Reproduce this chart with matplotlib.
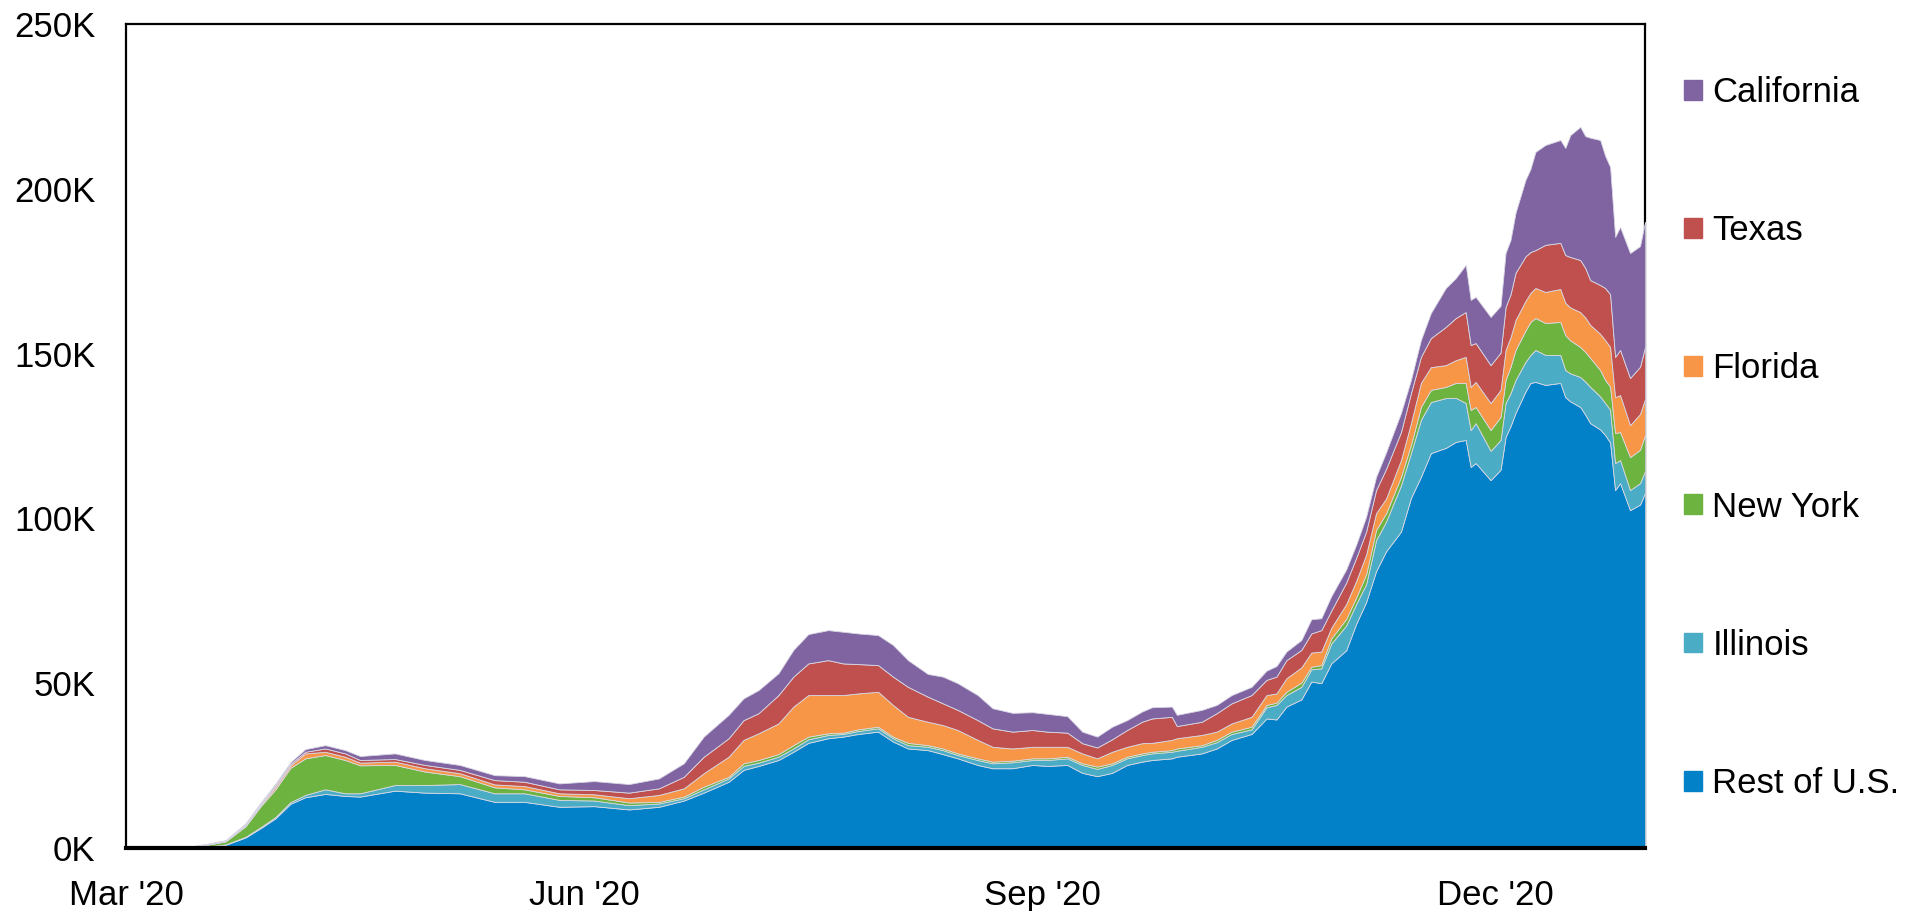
import matplotlib
matplotlib.use("Agg")
import matplotlib.pyplot as plt
import matplotlib.dates as mdates
import matplotlib.patches as mpatches
import pandas as pd

plt.rcParams["font.family"] = ["Liberation Sans", "DejaVu Sans"]

# daily cases, thousands (7-day avg)
dates = [
    "2020-03-01", "2020-03-13", "2020-03-17", "2020-03-21", "2020-03-25", "2020-03-28",
    "2020-03-31", "2020-04-03", "2020-04-06", "2020-04-10", "2020-04-14", "2020-04-17",
    "2020-04-24", "2020-04-30", "2020-05-07", "2020-05-14", "2020-05-20", "2020-05-27",
    "2020-06-03", "2020-06-10", "2020-06-16", "2020-06-21", "2020-06-25", "2020-06-30",
    "2020-07-03", "2020-07-06", "2020-07-10", "2020-07-13", "2020-07-16", "2020-07-20",
    "2020-07-23", "2020-07-26", "2020-07-30", "2020-08-02", "2020-08-05", "2020-08-09",
    "2020-08-12", "2020-08-15", "2020-08-19", "2020-08-22", "2020-08-26", "2020-08-30",
    "2020-09-02", "2020-09-06", "2020-09-09", "2020-09-12", "2020-09-15", "2020-09-18",
    "2020-09-21", "2020-09-23", "2020-09-27", "2020-09-28", "2020-10-03", "2020-10-06",
    "2020-10-09", "2020-10-13", "2020-10-16", "2020-10-18", "2020-10-20", "2020-10-23",
    "2020-10-25", "2020-10-27", "2020-10-29", "2020-11-01", "2020-11-03", "2020-11-05",
    "2020-11-07", "2020-11-09", "2020-11-12", "2020-11-14", "2020-11-16", "2020-11-18",
    "2020-11-21", "2020-11-23", "2020-11-25", "2020-11-26", "2020-11-27", "2020-11-30",
    "2020-12-02", "2020-12-03", "2020-12-04", "2020-12-05", "2020-12-07", "2020-12-08",
    "2020-12-09", "2020-12-11", "2020-12-14", "2020-12-15", "2020-12-16", "2020-12-18",
    "2020-12-19", "2020-12-20", "2020-12-22", "2020-12-23", "2020-12-24", "2020-12-25",
    "2020-12-26", "2020-12-28", "2020-12-30", "2020-12-31",
]

rest_of_us = [
    0, 0.1, 0.3, 1.0, 3.2, 6.0, 9.0, 13.4, 15.4, 16.4, 15.8, 15.6,
    17.4, 16.8, 16.6, 14.0, 14.0, 12.5, 12.7, 11.7, 12.5, 14.4, 16.8, 20.1,
    23.7, 24.9, 26.7, 29.2, 31.9, 33.3, 33.8, 34.6, 35.3, 32.3, 30.2, 29.7,
    28.5, 27.2, 25.2, 24.2, 24.2, 25.2, 24.9, 25.2, 22.8, 21.8, 22.8, 25.2,
    26.2, 26.7, 27.2, 27.7, 28.7, 30.2, 32.8, 34.6, 39.3, 39.0, 42.9, 45.1,
    50.5, 50.0, 56.0, 60.0, 68.0, 74.6, 84.0, 90.0, 96.0, 106.2, 112.6, 119.8,
    121.4, 123.2, 123.8, 115.6, 116.8, 111.6, 114.8, 124.7, 128.0, 132.0, 138.5, 141.1,
    141.4, 140.5, 141.1, 136.8, 135.5, 133.8, 131.5, 128.9, 127.0, 125.3, 123.0, 108.6,
    110.7, 102.5, 104.2, 107.7,
]
illinois = [
    0, 0, 0.1, 0.1, 0.2, 0.3, 0.4, 0.5, 0.7, 1.4, 0.8, 1.0,
    1.7, 2.3, 2.8, 2.6, 2.6, 2.1, 1.7, 1.3, 1.0, 0.7, 1.0, 1.0,
    1.2, 1.0, 1.0, 1.0, 1.1, 1.0, 0.8, 0.9, 1.0, 1.0, 1.0, 1.0,
    1.2, 1.0, 1.5, 1.5, 1.8, 1.5, 1.8, 2.0, 2.4, 2.2, 2.4, 2.0,
    2.0, 2.0, 2.0, 1.8, 2.0, 1.9, 1.8, 1.4, 3.4, 4.4, 3.5, 3.8,
    3.7, 4.5, 6.0, 7.5, 6.0, 5.4, 9.4, 9.0, 14.0, 13.6, 17.3, 15.5,
    15.1, 13.4, 11.2, 11.2, 12.1, 8.9, 9.0, 10.3, 10.0, 10.0, 9.0, 8.5,
    9.7, 9.1, 8.5, 8.2, 8.5, 9.1, 10.0, 11.0, 10.0, 9.7, 10.0, 8.2,
    7.0, 6.1, 6.5, 6.7,
]
new_york = [
    0, 0.1, 0.5, 0.9, 3.2, 6.3, 8.4, 10.4, 11.1, 10.4, 10.1, 8.5,
    6.1, 4.1, 2.4, 1.8, 1.2, 1.2, 1.0, 0.8, 0.5, 0.5, 0.8, 0.5,
    0.8, 0.8, 0.8, 1.0, 0.8, 0.5, 0.4, 0.5, 0.5, 0.5, 0.7, 0.5,
    0.5, 0.5, 0.5, 0.5, 0.5, 0.5, 0.5, 0.5, 0.5, 0.7, 0.5, 0.5,
    0.5, 0.5, 0.5, 0.7, 0.5, 0.7, 0.7, 0.8, 0.7, 0.7, 1.0, 1.3,
    0.8, 1.0, 1.6, 2.0, 2.0, 3.0, 3.1, 2.5, 2.6, 2.5, 3.9, 3.7,
    3.4, 4.5, 6.1, 6.1, 4.9, 6.3, 7.0, 7.0, 8.0, 9.1, 9.5, 10.0,
    9.7, 9.7, 10.0, 10.6, 10.0, 9.1, 9.0, 8.8, 8.0, 7.0, 7.0, 9.1,
    8.5, 10.0, 10.1, 10.9,
]
florida = [
    0, 0, 0.1, 0.1, 0.4, 0.4, 0.7, 0.7, 1.5, 1.0, 1.0, 0.8,
    1.0, 1.0, 0.9, 0.9, 1.0, 0.8, 0.9, 1.3, 2.1, 2.5, 4.1, 6.1,
    7.1, 8.1, 9.3, 11.7, 12.6, 11.6, 11.4, 10.9, 10.6, 9.6, 7.9, 7.1,
    7.1, 7.1, 5.6, 4.5, 3.7, 3.5, 3.5, 3.0, 3.0, 2.5, 3.5, 3.0,
    3.1, 2.7, 3.1, 3.1, 3.1, 2.5, 2.5, 3.0, 3.0, 2.8, 4.1, 4.6,
    4.3, 4.1, 3.2, 4.5, 5.0, 6.0, 5.1, 4.5, 5.1, 6.6, 7.3, 6.9,
    6.6, 6.9, 7.9, 7.0, 7.6, 8.2, 8.2, 9.1, 9.0, 9.1, 9.0, 8.8,
    9.1, 9.4, 10.0, 9.8, 10.0, 10.6, 10.5, 10.0, 11.0, 12.1, 12.0, 10.9,
    11.2, 9.7, 10.9, 10.9,
]
texas = [
    0, 0, 0.1, 0.1, 0.2, 0.4, 0.5, 0.5, 0.5, 1.0, 1.0, 0.8,
    0.8, 1.0, 1.0, 1.3, 1.3, 1.2, 1.3, 1.7, 2.0, 3.5, 5.0, 5.6,
    6.0, 6.1, 8.6, 9.1, 9.6, 10.6, 9.6, 8.9, 8.1, 8.6, 9.1, 7.6,
    6.6, 6.1, 6.0, 5.6, 5.1, 5.1, 4.6, 4.3, 3.1, 3.3, 3.8, 5.1,
    6.5, 7.4, 7.0, 3.7, 4.0, 5.6, 6.1, 6.6, 4.6, 5.1, 5.5, 5.3,
    5.8, 6.5, 5.2, 6.5, 7.0, 7.0, 7.0, 9.0, 8.5, 9.1, 7.9, 8.8,
    11.6, 12.8, 13.6, 12.7, 11.8, 11.5, 11.3, 13.0, 13.0, 14.3, 13.5, 12.4,
    11.5, 14.3, 14.0, 14.5, 15.3, 15.8, 15.0, 13.6, 14.8, 15.8, 16.0, 12.2,
    13.7, 14.3, 14.3, 15.8,
]
california = [
    0, 0, 0.1, 0.2, 0.3, 0.3, 0.5, 0.5, 0.8, 1.0, 1.0, 1.2,
    1.7, 1.5, 1.5, 1.5, 1.7, 1.8, 2.7, 2.6, 3.0, 4.1, 6.1, 7.1,
    6.6, 7.0, 6.6, 8.1, 8.9, 9.1, 9.6, 9.3, 9.1, 9.6, 8.1, 6.9,
    8.1, 8.1, 7.6, 6.1, 5.7, 5.4, 5.4, 5.0, 3.5, 3.3, 3.8, 3.0,
    3.1, 3.4, 3.1, 3.4, 3.6, 2.5, 2.5, 2.5, 2.8, 3.2, 2.6, 3.0,
    4.3, 3.6, 4.4, 4.0, 4.0, 4.5, 4.0, 5.0, 5.8, 4.0, 5.1, 7.6,
    11.8, 12.1, 14.3, 13.7, 14.0, 14.6, 14.2, 16.4, 16.5, 18.2, 23.2, 25.2,
    29.8, 30.3, 31.2, 32.5, 37.0, 40.4, 40.0, 43.2, 44.0, 40.1, 38.6, 36.4,
    37.3, 37.9, 36.6, 38.0,
]

series_names = ["Rest of U.S.", "Illinois", "New York", "Florida", "Texas", "California"]
series_colors = ["#0281C8", "#4BACC6", "#6DB33F", "#F79646", "#C0504D", "#8064A2"]

y_ticks = [0, 50000, 100000, 150000, 200000, 250000]
y_tick_labels = ["0K", "50K", "100K", "150K", "200K", "250K"]

x = pd.to_datetime(dates)
stack = [[v * 1000 for v in s] for s in
         (rest_of_us, illinois, new_york, florida, texas, california)]

fig = plt.figure(figsize=(19.19, 9.11), dpi=100)
ax = fig.add_axes([126 / 1919, 63 / 911, 1519 / 1919, 824 / 911])

ax.stackplot(x, *stack, colors=series_colors, labels=series_names,
             edgecolor="#d8d8e4", linewidth=0.6, zorder=3)

ax.set_xlim(pd.Timestamp("2020-03-01"), pd.Timestamp("2020-12-31"))
ax.set_ylim(0, 250000)
ax.set_yticks(y_ticks)
ax.set_yticklabels(y_tick_labels)
ax.xaxis.set_major_locator(mdates.MonthLocator(bymonth=[3, 6, 9, 12]))
ax.xaxis.set_major_formatter(mdates.DateFormatter("%b '%y"))
ax.tick_params(axis="both", length=0, labelsize=25, colors="black")
ax.tick_params(axis="x", pad=22)
ax.tick_params(axis="y", pad=22)

for side in ("top", "left", "right"):
    ax.spines[side].set_linewidth(1.6)
    ax.spines[side].set_zorder(1)
ax.spines["bottom"].set_linewidth(3)
ax.spines["bottom"].set_zorder(5)

handles = [mpatches.Patch(color=c, label=n) for n, c in zip(series_names, series_colors)][::-1]
ax.legend(handles=handles, loc="upper left", bbox_to_anchor=(1684 / 1919, (911 - 76) / 911),
          bbox_transform=fig.transFigure, frameon=False, fontsize=25,
          handlelength=0.52, handleheight=0.5, handletextpad=0.3,
          labelspacing=3.03, borderpad=0, borderaxespad=0)

fig.savefig("out.png", dpi=100, facecolor="white")
